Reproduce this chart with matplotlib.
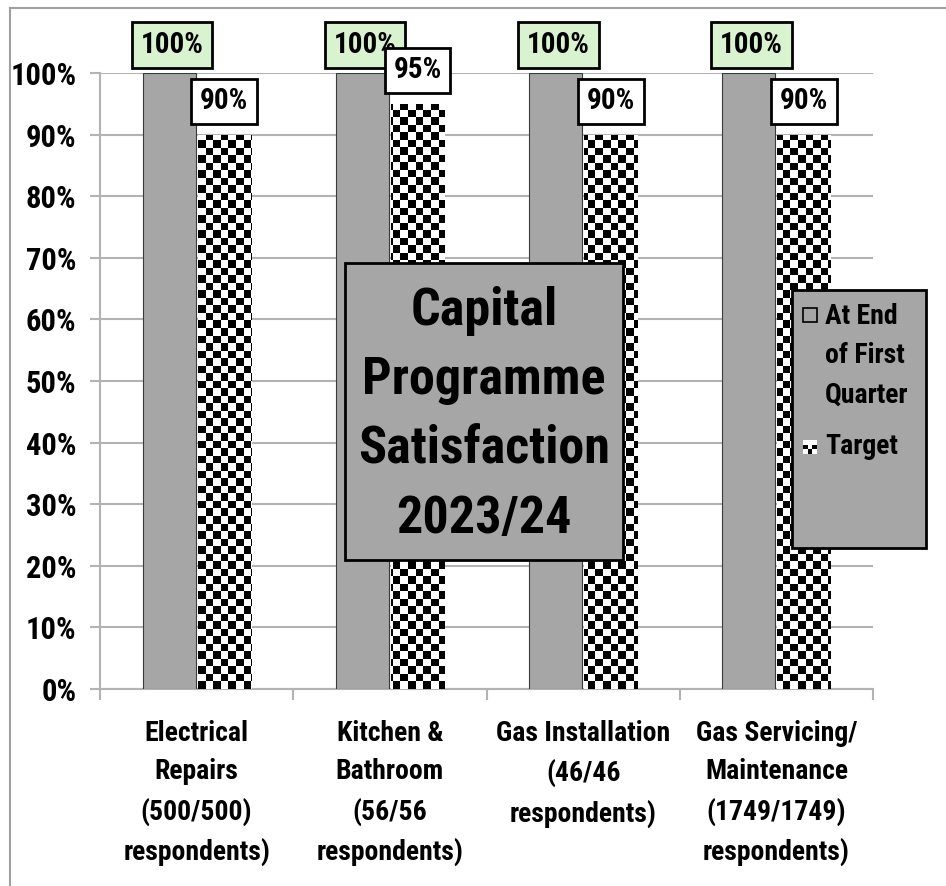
import numpy as np
import matplotlib
matplotlib.use("Agg")
import matplotlib.pyplot as plt
from matplotlib.patches import Rectangle
from matplotlib.lines import Line2D
from matplotlib.ticker import MultipleLocator, PercentFormatter

categories = [
    "Electrical\nRepairs\n(500/500)\nrespondents)",
    "Kitchen &\nBathroom\n(56/56\nrespondents)",
    "Gas Installation\n(46/46\nrespondents)",
    "Gas Servicing/\nMaintenance\n(1749/1749)\nrespondents)",
]
actual = [100, 100, 100, 100]
target = [90, 95, 90, 90]
series_names = ["At End\nof First\nQuarter", "Target"]
title_lines = "Capital\nProgramme\nSatisfaction\n2023/24"

FONT = ["Roboto Condensed", "DejaVu Sans"]
plt.rcParams["font.family"] = FONT
plt.rcParams["font.weight"] = "bold"

GRAY = "#a6a6a6"
GRID = "#b3b3b3"

fig = plt.figure(figsize=(9.46, 8.86), dpi=100)
ax = fig.add_axes([100 / 946, 1 - 689 / 886, 773 / 946, 616 / 886])

x = np.arange(len(categories))
w = 0.275
off = 0.1425

bars_a = ax.bar(x - off, actual, w, color=GRAY, edgecolor="#3a3a3a", linewidth=0.8, zorder=3)
bars_t = ax.bar(x + off, target, w, color="white", edgecolor="none", linewidth=0, zorder=3)

# checkerboard fill for the target bars
cell_px = 7.5
nx = int(round(773 / cell_px))
ny = int(round(616 / cell_px))
checker = (np.add.outer(np.arange(ny), np.arange(nx)) % 2).astype(float)
for b in bars_t:
    im = ax.imshow(checker, cmap="gray", vmin=0, vmax=1, interpolation="nearest",
                   extent=[0, 1, 0, 1], transform=ax.transAxes, aspect="auto", zorder=4)
    im.set_clip_path(b)

ax.set_xlim(-0.5, len(categories) - 0.5)
ax.set_ylim(0, 100)
ax.yaxis.set_major_locator(MultipleLocator(10))
ax.yaxis.set_major_formatter(PercentFormatter(decimals=0))
ax.grid(axis="y", color=GRID, linewidth=1.5, zorder=0)
for s in ["top", "right"]:
    ax.spines[s].set_visible(False)
ax.spines["left"].set_color(GRID)
ax.spines["left"].set_linewidth(1.5)
ax.spines["bottom"].set_color(GRID)
ax.spines["bottom"].set_linewidth(1.5)
ax.tick_params(axis="y", length=7, width=1.5, color=GRID, labelsize=22, pad=10)
ax.set_xticks(x)
ax.set_xticklabels(categories, fontsize=20, linespacing=1.56)
ax.tick_params(axis="x", which="major", length=0, pad=22)
ax.set_xticks(np.arange(-0.5, len(categories)), minor=True)
ax.tick_params(axis="x", which="minor", length=8, width=1.5, color=GRID)

# value labels
for b, v in zip(bars_a, actual):
    ax.annotate(f"{v}%", (b.get_x() + b.get_width() / 2, v), xytext=(2, 20),
                textcoords="offset points", ha="center", va="center", fontsize=21,
                bbox=dict(boxstyle="square,pad=0.3", fc="#d9f2d0", ec="black", lw=2),
                zorder=6, annotation_clip=False)
for b, v in zip(bars_t, target):
    ax.annotate(f"{v}%", (b.get_x() + b.get_width() / 2, v), xytext=(0, 24),
                textcoords="offset points", ha="center", va="center", fontsize=21,
                bbox=dict(boxstyle="square,pad=0.3", fc="white", ec="black", lw=2),
                zorder=6, annotation_clip=False)

# title panel
ax.add_patch(Rectangle((0.317, 0.2094), 0.3596, 0.4822, transform=ax.transAxes,
                       fc=GRAY, ec="black", lw=2, zorder=7))
ax.text(0.4968, 0.4448, title_lines, transform=ax.transAxes, ha="center", va="center",
        fontsize=37.5, linespacing=1.5, zorder=8)

# legend panel
ax.add_patch(Rectangle((0.8952, 0.2289), 0.1734, 0.4188, transform=ax.transAxes,
                       fc=GRAY, ec="black", lw=2, zorder=7, clip_on=False))
mw, mh = 14 / 773, 14 / 616
ax.add_patch(Rectangle((0.9094, 0.6071 - mh / 2), mw, mh, transform=ax.transAxes,
                       fc=GRAY, ec="black", lw=1.2, zorder=8, clip_on=False))
ax.text(0.938, 0.5406, series_names[0], transform=ax.transAxes, ha="left", va="center",
        fontsize=20, linespacing=1.58, zorder=8, clip_on=False)
marker = np.array([[1, 1, 1], [0, 1, 0], [1, 0, 1]], dtype=float)
ax.imshow(marker, cmap="gray", vmin=0, vmax=1, interpolation="nearest",
          extent=[0.9094, 0.9094 + mw, 0.3929 - mh / 2, 0.3929 + mh / 2],
          transform=ax.transAxes, aspect="auto", zorder=8, clip_on=False)
ax.text(0.938, 0.3929, series_names[1], transform=ax.transAxes, ha="left", va="center",
        fontsize=20, zorder=8, clip_on=False)
ax.set_xlim(-0.5, len(categories) - 0.5)
ax.set_ylim(0, 100)

# outer frame
fig.add_artist(Line2D([10 / 946, 1], [1 - 8 / 886] * 2, transform=fig.transFigure,
                      color="#a0a0a0", lw=1.5))
fig.add_artist(Line2D([10 / 946] * 2, [0, 1 - 8 / 886], transform=fig.transFigure,
                      color="#a0a0a0", lw=1.5))

fig.savefig("out.png", dpi=100)
